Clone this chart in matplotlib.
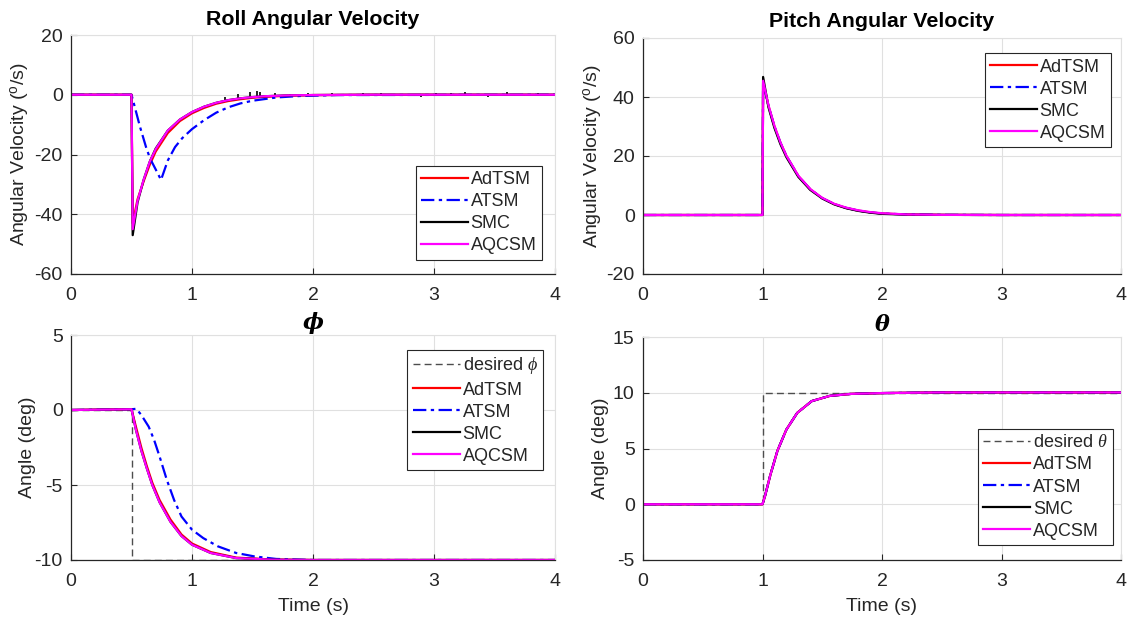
import numpy as np
import matplotlib
matplotlib.use("Agg")
import matplotlib.pyplot as plt

plt.rcParams['font.family'] = ['Liberation Sans', 'DejaVu Sans']
plt.rcParams['axes.unicode_minus'] = False
plt.rcParams['mathtext.fontset'] = 'custom'
plt.rcParams['mathtext.rm'] = 'Liberation Sans'
plt.rcParams['mathtext.it'] = 'Liberation Serif:italic'

# ---------------- data ----------------
labels = ['AdTSM', 'ATSM', 'SMC', 'AQCSM']

# Roll angular velocity
t_rv = [0, 0.5, 0.51, 0.55, 0.6, 0.65, 0.7, 0.8, 0.9, 1.0, 1.1, 1.2, 1.3, 1.4, 1.5, 1.6, 1.8, 2.0, 2.5, 4.0]
rv_adtsm = [0, 0, -43, -35, -29, -23.5, -19, -12.8, -8.8, -6.2, -4.4, -3.0, -2.1, -1.5, -1.0, -0.7, -0.3, -0.1, 0, 0]
rv_smc = [0, 0, -47, -36, -28.5, -22.5, -18, -12, -8.3, -5.8, -4.0, -2.7, -1.8, -1.2, -0.8, -0.5, -0.2, -0.1, 0, 0]
rv_aqcsm = [0, 0, -45, -35.5, -28.5, -22.5, -18.2, -12, -8.3, -5.8, -4.0, -2.7, -1.8, -1.2, -0.8, -0.5, -0.2, -0.1, 0, 0]
t_rv_atsm = [0, 0.5, 0.52, 0.57, 0.62, 0.653, 0.7, 0.744, 0.8, 0.86, 0.92, 1.0, 1.1, 1.2, 1.3, 1.4, 1.5, 1.7, 1.9, 2.2, 4.0]
rv_atsm = [0, 0, -3, -10.7, -17.5, -21.3, -25, -28.5, -22, -17.5, -14.5, -11.5, -8.5, -6.0, -4.2, -2.9, -2.0, -0.9, -0.4, -0.1, 0]
# SMC chattering spikes (time, low, high)
spike_t = [1.27, 1.38, 1.48, 1.54, 1.56, 1.69, 1.81, 1.96, 2.16, 2.29, 2.41, 2.56, 2.71, 2.89, 3.02, 3.14, 3.26, 3.45, 3.6, 3.74, 3.86]
spike_lo = [-1.8, -1.1, -0.8, -0.6, -0.5, -0.3, -0.2, -0.2, -0.4, -0.3, -0.2, -0.3, -0.2, -0.9, -0.3, -0.2, -0.3, -0.7, -0.3, -0.3, -0.4]
spike_hi = [-0.6, 0.4, 0.8, 1.2, 1.0, 0.5, 0.4, 0.6, 0.5, 0.4, 0.6, 0.5, 0.4, 0.4, 0.6, 0.5, 0.8, 0.4, 0.9, 0.4, 0.5]

# Pitch angular velocity
t_pv = [0, 1.0, 1.005, 1.05, 1.1, 1.15, 1.2, 1.3, 1.4, 1.5, 1.6, 1.7, 1.8, 1.9, 2.0, 2.2, 2.5, 3.0, 4.0]
pv_adtsm = [0, 0, 45, 37, 30, 24.5, 20, 13.2, 8.7, 5.7, 3.7, 2.4, 1.5, 0.9, 0.5, 0.2, 0.05, 0, 0]
pv_atsm = [0, 0, 45, 37, 30, 24.5, 20, 13.2, 8.7, 5.7, 3.7, 2.4, 1.5, 0.9, 0.5, 0.2, 0.05, 0, 0]
pv_smc = [0, 0, 46.8, 36.5, 29.5, 24, 19.6, 12.9, 8.5, 5.6, 3.6, 2.3, 1.4, 0.8, 0.4, 0.15, 0.05, 0, 0]
pv_aqcsm = [0, 0, 45.5, 37.2, 30.2, 24.6, 20.1, 13.3, 8.8, 5.8, 3.8, 2.5, 1.6, 1.0, 0.6, 0.2, 0.05, 0, 0]

# Roll angle phi
t_phi = [0, 0.5, 0.536, 0.581, 0.627, 0.672, 0.732, 0.822, 0.913, 1.0, 1.154, 1.364, 1.666, 2.0, 4.0]
phi_adtsm = [0, 0.05, -1.1, -2.5, -3.75, -4.85, -6.0, -7.3, -8.3, -8.9, -9.47, -9.84, -9.97, -10.0, -10.0]
phi_smc = [0, 0.05, -1.3, -2.7, -3.9, -5.0, -6.15, -7.45, -8.4, -8.98, -9.53, -9.87, -9.98, -10.0, -10.0]
phi_aqcsm = [0, 0.05, -1.3, -2.7, -3.9, -5.0, -6.15, -7.45, -8.4, -8.98, -9.53, -9.87, -9.98, -10.0, -10.0]
t_phi_atsm = [0, 0.5, 0.54, 0.581, 0.642, 0.687, 0.732, 0.792, 0.852, 0.913, 1.0, 1.093, 1.214, 1.364, 1.515, 1.696, 2.0, 4.0]
phi_atsm = [0, 0.05, 0.08, -0.33, -1.11, -2.0, -3.1, -4.66, -6.0, -7.1, -7.98, -8.54, -9.09, -9.53, -9.76, -9.93, -10.0, -10.0]
t_phi_des = [0, 0.5, 0.5, 4.0]
phi_des = [0, 0, -10, -10]

# Pitch angle theta
t_th = [0, 1.0, 1.02, 1.065, 1.125, 1.2, 1.291, 1.412, 1.563, 1.744, 2.0, 2.5, 4.0]
th_adtsm = [0, 0, 0.7, 2.6, 4.8, 6.7, 8.2, 9.25, 9.72, 9.9, 9.97, 10.03, 10.03]
th_atsm = [0, 0, 0.7, 2.6, 4.8, 6.7, 8.2, 9.25, 9.72, 9.9, 9.97, 10.03, 10.03]
th_smc = [0, 0, 0.7, 2.6, 4.8, 6.7, 8.2, 9.25, 9.72, 9.9, 9.97, 10.03, 10.03]
th_aqcsm = [0, 0, 0.7, 2.6, 4.8, 6.7, 8.2, 9.25, 9.72, 9.9, 9.97, 10.03, 10.03]
t_th_des = [0, 1.0, 1.0, 4.0]
th_des = [0, 0, 10, 10]

# ---------------- style ----------------
C_RED = (1, 0, 0)
C_BLUE = (0, 0, 1)
C_BLK = (0, 0, 0)
C_MAG = (1, 0, 1)
DASHDOT = (0, (6, 2, 1.5, 2))
LW = 1.6
TXT = (0.15, 0.15, 0.15)

fig = plt.figure(figsize=(11.36, 6.22), dpi=100)
W, H = 1136, 622


def make_ax(x0, y0, x1, y1):
    return fig.add_axes([x0 / W, 1 - y1 / H, (x1 - x0) / W, (y1 - y0) / H])


def style(ax, ylim, yticks):
    ax.set_xlim(0, 4)
    ax.set_ylim(*ylim)
    ax.set_xticks([0, 1, 2, 3, 4])
    ax.set_yticks(yticks)
    ax.grid(True, color=(0.88, 0.88, 0.88), linewidth=0.8)
    ax.set_axisbelow(True)
    for s in ['top', 'right']:
        ax.spines[s].set_color((0.88, 0.88, 0.88))
        ax.spines[s].set_linewidth(0.8)
    for s in ['left', 'bottom']:
        ax.spines[s].set_color(TXT)
        ax.spines[s].set_linewidth(0.9)
    ax.tick_params(direction='in', length=4, width=0.8, colors=TXT, labelsize=14,
                   labelcolor=TXT)
    ax.tick_params(axis='x', pad=9)
    ax.tick_params(axis='y', pad=6)


def legend(ax, handles, names, anchor, loc):
    lg = ax.legend(handles, names, loc=loc, bbox_to_anchor=anchor, fontsize=13,
                   fancybox=False, framealpha=1, edgecolor=TXT, handlelength=2.6,
                   handletextpad=0.15, labelspacing=0.28, borderpad=0.3, borderaxespad=0)
    lg.get_frame().set_linewidth(0.8)
    for t in lg.get_texts():
        t.set_color(TXT)
    return lg


# Top-left: roll angular velocity
ax1 = make_ax(71, 35, 555, 274)
style(ax1, (-60, 20), [-60, -40, -20, 0, 20])
h1, = ax1.plot(t_rv, rv_adtsm, color=C_RED, lw=LW)
h2, = ax1.plot(t_rv_atsm, rv_atsm, color=C_BLUE, lw=LW, ls=DASHDOT)
h3, = ax1.plot(t_rv, rv_smc, color=C_BLK, lw=LW)
ax1.vlines(spike_t, spike_lo, spike_hi, color=C_BLK, lw=1.2)
h4, = ax1.plot(t_rv, rv_aqcsm, color=C_MAG, lw=LW)
ax1.set_title('Roll Angular Velocity', fontsize=15.4, fontweight='bold', pad=7)
ax1.set_ylabel('Angular Velocity ($^{\\mathrm{o}}$/s)', fontsize=14, color=TXT, labelpad=2)
legend(ax1, [h1, h2, h3, h4], labels, (0.973, 0.059), 'lower right')

# Top-right: pitch angular velocity
ax2 = make_ax(643, 38, 1121, 274)
style(ax2, (-20, 60), [-20, 0, 20, 40, 60])
g1, = ax2.plot(t_pv, pv_adtsm, color=C_RED, lw=LW)
g2, = ax2.plot(t_pv, pv_atsm, color=C_BLUE, lw=LW, ls=DASHDOT)
g3, = ax2.plot(t_pv, pv_smc, color=C_BLK, lw=LW)
g4, = ax2.plot(t_pv, pv_aqcsm, color=C_MAG, lw=LW)
ax2.set_title('Pitch Angular Velocity', fontsize=15.4, fontweight='bold', pad=8)
ax2.set_ylabel('Angular Velocity ($^{\\mathrm{o}}$/s)', fontsize=14, color=TXT, labelpad=1)
legend(ax2, [g1, g2, g3, g4], labels, (0.979, 0.936), 'upper right')

# Bottom-left: phi
ax3 = make_ax(71, 335, 555, 560)
style(ax3, (-10, 5), [-10, -5, 0, 5])
d3, = ax3.plot(t_phi_des, phi_des, color=(0.3, 0.3, 0.3), lw=1.0, ls=(0, (5, 3)))
k1, = ax3.plot(t_phi, phi_adtsm, color=C_RED, lw=LW)
k2, = ax3.plot(t_phi_atsm, phi_atsm, color=C_BLUE, lw=LW, ls=DASHDOT)
k3, = ax3.plot(t_phi, phi_smc, color=C_BLK, lw=LW)
k4, = ax3.plot(t_phi, phi_aqcsm, color=C_MAG, lw=LW)
ax3.set_title('\u03d5', fontsize=16, fontweight='bold', style='italic',
              family=['DejaVu Serif'], pad=4)
ax3.set_ylabel('Angle (deg)', fontsize=14, color=TXT, labelpad=-1)
ax3.set_xlabel('Time (s)', fontsize=14, color=TXT, labelpad=6)
legend(ax3, [d3, k1, k2, k3, k4], ['desired $\\phi$'] + labels, (0.975, 0.933), 'upper right')

# Bottom-right: theta
ax4 = make_ax(643, 337, 1121, 560)
style(ax4, (-5, 15), [-5, 0, 5, 10, 15])
d4, = ax4.plot(t_th_des, th_des, color=(0.3, 0.3, 0.3), lw=1.0, ls=(0, (5, 3)))
m1, = ax4.plot(t_th, th_adtsm, color=C_RED, lw=LW)
m2, = ax4.plot(t_th, th_atsm, color=C_BLUE, lw=LW, ls=DASHDOT)
m3, = ax4.plot(t_th, th_smc, color=C_BLK, lw=LW)
m4, = ax4.plot(t_th, th_aqcsm, color=C_MAG, lw=LW)
ax4.set_title('\u03b8', fontsize=16, fontweight='bold', style='italic',
              family=['DejaVu Serif'], pad=4)
ax4.set_ylabel('Angle (deg)', fontsize=14, color=TXT, labelpad=3)
ax4.set_xlabel('Time (s)', fontsize=14, color=TXT, labelpad=6)
legend(ax4, [d4, m1, m2, m3, m4], ['desired $\\theta$'] + labels, (0.983, 0.067), 'lower right')

fig.savefig('out.png', dpi=100, facecolor='white')
